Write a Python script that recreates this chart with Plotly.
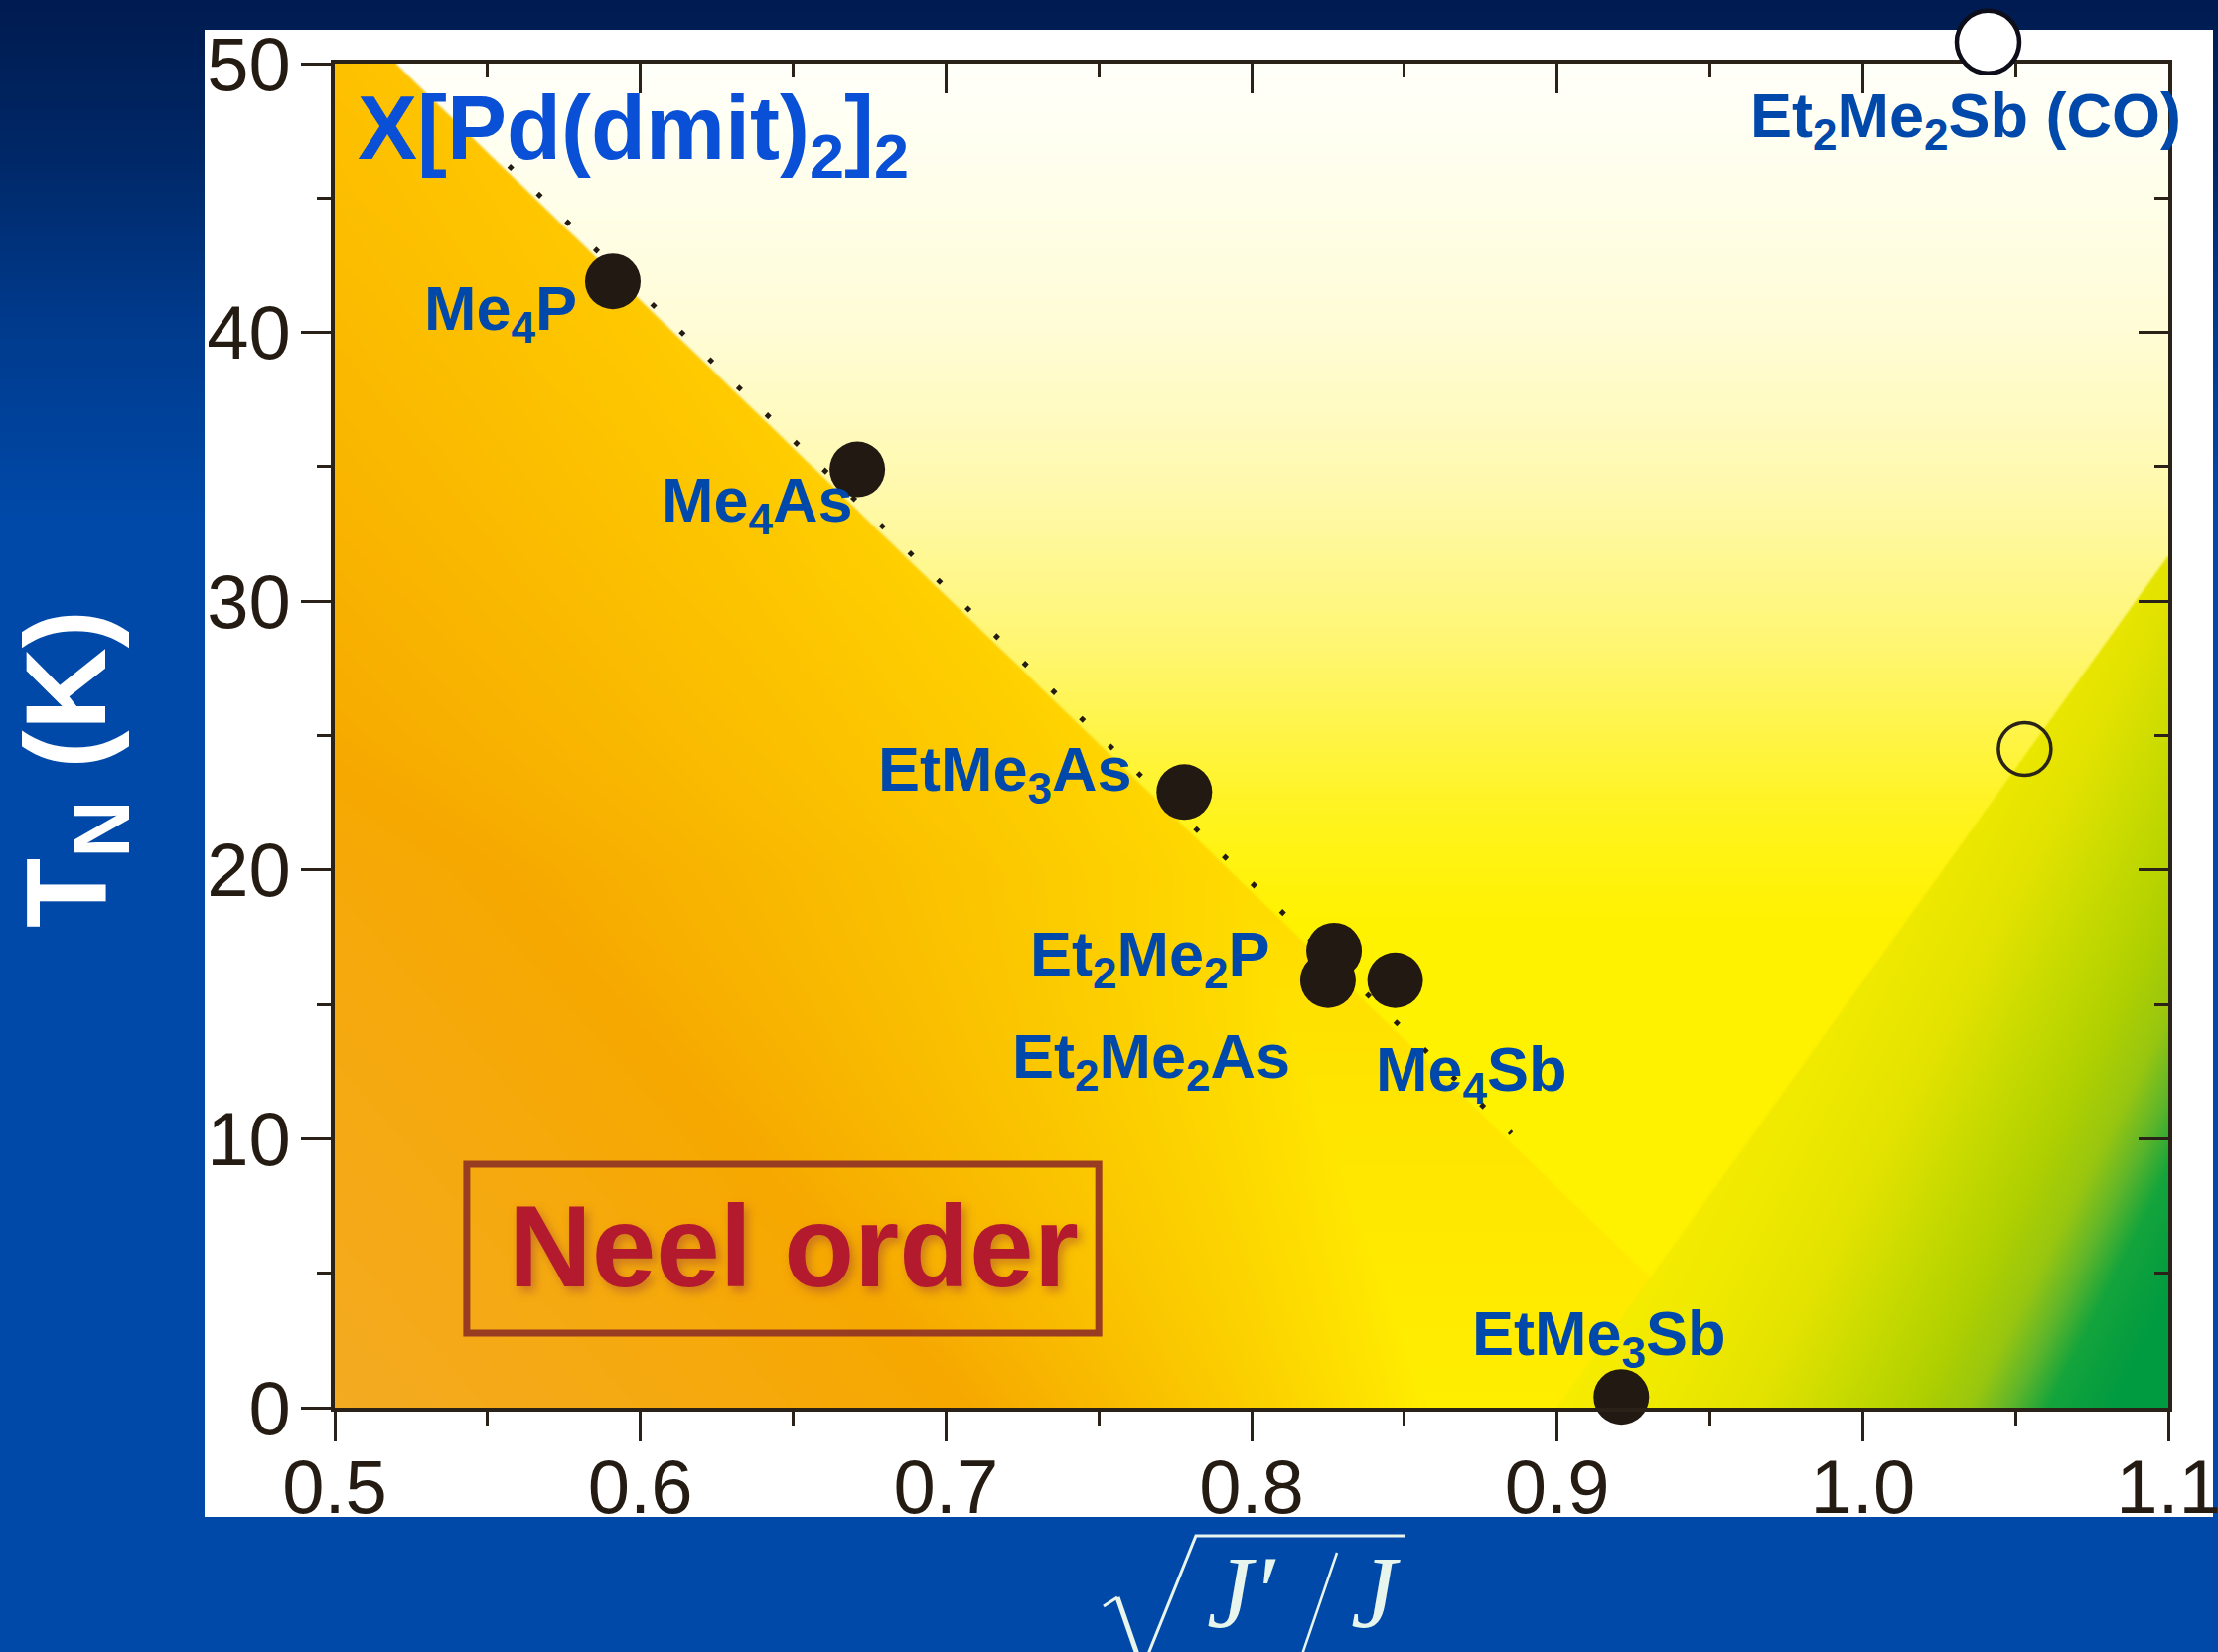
import base64
import struct
import zlib

import numpy as np
import plotly.graph_objects as go

# ---------------- data ----------------
compounds = ["Me<sub>4</sub>P", "Me<sub>4</sub>As", "EtMe<sub>3</sub>As",
             "Et<sub>2</sub>Me<sub>2</sub>P", "Et<sub>2</sub>Me<sub>2</sub>As",
             "Me<sub>4</sub>Sb", "EtMe<sub>3</sub>Sb"]
sqrt_ratio = [0.591, 0.671, 0.778, 0.827, 0.825, 0.847, 0.921]
tn_kelvin = [41.9, 34.9, 22.9, 17.0, 15.9, 15.9, 0.4]

co_label = "Et<sub>2</sub>Me<sub>2</sub>Sb (CO)"
co_key_ratio = [1.041]
co_key_temp = [50.8]
co_ratio = [1.053]
co_temp = [24.5]

guide_ratio = [0.557, 0.885]
guide_temp = [46.2, 10.2]

title_text = "X[Pd(dmit)<sub>2</sub>]<sub>2</sub>"
phase_text = "Neel order"
x_ticks = [0.5, 0.6, 0.7, 0.8, 0.9, 1.0, 1.1]
y_ticks = [0, 10, 20, 30, 40, 50]

# label positions (left edge, vertical centre of capitals)
label_pos = [(0.5285, 40.75), (0.6063, 33.6), (0.6771, 23.6), (0.7268, 16.73),
             (0.7210, 12.93), (0.840, 12.45), (0.8715, 2.60)]

# ---------------- geometry ----------------
FIG_W, FIG_H = 2233, 1663
PL, PR, PT, PB = 337, 2183, 64, 1417
XR = (0.5, 1.1)
YR = (0.0, 50.0)
Y_DOMAIN_TOP = (PB - PT) / PB          # paper extends to the top edge of the figure
Y_FULL = YR[1] * PB / (PB - PT)        # y value at the very top of the paper


def xpx(x):
    return PL + (np.asarray(x) - XR[0]) / (XR[1] - XR[0]) * (PR - PL)


def ypx(y):
    return PB - (np.asarray(y) - YR[0]) / (YR[1] - YR[0]) * (PB - PT)


def px2paper(X, Y):
    return (X - PL) / (PR - PL), (PB - Y) / PB


def png_uri(rgb):
    rgb = np.clip(np.round(rgb), 0, 255).astype(np.uint8)
    h, w, _ = rgb.shape
    raw = b"".join(b"\x00" + rgb[i].tobytes() for i in range(h))

    def chunk(t, d):
        c = struct.pack(">I", len(d)) + t + d
        return c + struct.pack(">I", zlib.crc32(t + d) & 0xFFFFFFFF)

    png = (b"\x89PNG\r\n\x1a\n"
           + chunk(b"IHDR", struct.pack(">IIBBBBB", w, h, 8, 2, 0, 0, 0))
           + chunk(b"IDAT", zlib.compress(raw, 9))
           + chunk(b"IEND", b""))
    return "data:image/png;base64," + base64.b64encode(png).decode()


def stops_interp(v, stops):
    pos = np.array([s[0] for s in stops], dtype=float)
    return np.stack([np.interp(v, pos, [s[1][k] for s in stops]) for k in range(3)], axis=-1)


def signed_dist(px, py, p1, p2):
    x1, y1 = xpx(p1[0]), ypx(p1[1])
    x2, y2 = xpx(p2[0]), ypx(p2[1])
    dx, dy = x2 - x1, y2 - y1
    n = np.hypot(dx, dy)
    dx, dy = dx / n, dy / n
    return dx * (py - y1) - dy * (px - x1)


# ---------------- plot-area colour field ----------------
W, H = 923, 677
jj, ii = np.meshgrid(np.arange(W) + 0.5, np.arange(H) + 0.5)
px = PL + jj * (PR - PL) / W
py = PT + ii * (PB - PT) / H
yv = (PB - py) / (PB - PT) * 50.0

d_o = signed_dist(px, py, (0.520, 50.0), (0.9745, 0.0))
near = stops_interp(yv, [(0, (255, 238, 0)), (12, (255, 228, 0)), (25, (255, 212, 0)),
                         (50, (255, 196, 0))])
off = np.interp(yv, [0, 20, 50], [250, 0, 0])
span = np.interp(yv, [0, 25, 50], [320, 560, 560])
t1 = np.clip((d_o - off) / span, 0, 1)[..., None] ** 0.85
orange = near * (1 - t1) + np.array([246, 168, 0]) * t1
t2 = np.clip((d_o - off - span) / 450.0, 0, 1)[..., None]
orange = orange * (1 - t2) + np.array([244, 170, 34]) * t2

yellow = stops_interp(yv, [(0, (255, 242, 0)), (18, (255, 242, 0)), (22, (255, 243, 30)),
                           (28, (255, 246, 110)), (34, (255, 249, 172)), (40, (255, 252, 214)),
                           (48, (255, 255, 244)), (50, (255, 255, 250))])

d_g = signed_dist(px, py, (0.900, 0.0), (1.100, 31.7))
s_g = 0.89 * (px - xpx(0.9)) + 0.45 * (py - PB)
green = stops_interp(s_g, [(-100, (248, 238, 0)), (0, (246, 236, 0)), (100, (238, 232, 0)),
                           (180, (226, 226, 0)), (250, (200, 218, 0)), (320, (176, 208, 0)),
                           (370, (152, 198, 16)), (405, (96, 182, 42)), (440, (20, 164, 60)),
                           (500, (0, 154, 64)), (900, (0, 154, 64))])

m_o = np.clip(d_o / 2.0 + 0.5, 0, 1)[..., None]
m_g = np.clip(d_g / 2.0 + 0.5, 0, 1)[..., None]
field = yellow * (1 - m_o) + orange * m_o
field = field * (1 - m_g) + green * m_g
plot_uri = png_uri(field)

# ---------------- page background ----------------
BW, BH = 280, 416
bj, bi = np.meshgrid(np.arange(BW) + 0.5, np.arange(BH) + 0.5)
by = bi * FIG_H / BH
bg = stops_interp(by, [(0, (0, 27, 80)), (150, (0, 39, 102)), (320, (0, 58, 140)),
                       (520, (0, 73, 168)), (FIG_H, (0, 73, 169))])
bg_uri = png_uri(bg)

# ---------------- figure ----------------
FONT = "Liberation Sans, Arial, sans-serif"
SERIF = "Liberation Serif, Times New Roman, serif"
INK = "#241B13"
LABEL_BLUE = "#0049AB"

fig = go.Figure()

fig.add_trace(go.Scatter(
    x=guide_ratio, y=guide_temp, mode="lines",
    line=dict(color="#231C14", width=5, dash="5px,35px"),
    hoverinfo="skip", showlegend=False))

fig.add_trace(go.Scatter(
    x=sqrt_ratio, y=tn_kelvin, mode="markers", name="X[Pd(dmit)2]2",
    marker=dict(size=56, color="#221A12", line=dict(width=0)),
    cliponaxis=False, showlegend=False))

fig.add_trace(go.Scatter(
    x=co_ratio, y=co_temp, mode="markers", name="Et2Me2Sb (CO)",
    marker=dict(size=53, color="rgba(0,0,0,0)", line=dict(width=3.5, color="#2A2418")),
    cliponaxis=False, showlegend=False))

# dummy trace for the mirrored axes
fig.add_trace(go.Scatter(x=[0.5], y=[0], xaxis="x2", yaxis="y2", mode="markers",
                         marker=dict(opacity=0), hoverinfo="skip", showlegend=False))

# key marker for the CO salt, sits above the frame -> taller helper axis
fig.add_trace(go.Scatter(
    x=co_key_ratio, y=co_key_temp, yaxis="y3", mode="markers", name="CO key",
    marker=dict(size=63, color="white", line=dict(width=4.5, color="#0E0E1A")),
    cliponaxis=False, hoverinfo="skip", showlegend=False))

axis_common = dict(showgrid=False, zeroline=False, showline=True, linecolor="#2A2118",
                   linewidth=4, tickcolor="#2A2118", tickwidth=3, ticklen=30, automargin=False)

fig.update_layout(
    width=FIG_W, height=FIG_H, autosize=False,
    margin=dict(l=PL, r=FIG_W - PR, t=0, b=FIG_H - PB, pad=0, autoexpand=False),
    paper_bgcolor="#0049A9", plot_bgcolor="rgba(0,0,0,0)",
    font=dict(family=FONT, color=INK),
    xaxis=dict(range=list(XR), tickvals=x_ticks, tickformat=".1f", ticks="outside",
               tickfont=dict(size=76, color=INK, family=FONT), ticklabelstandoff=-19,
               ticklabeloverflow="allow",
               minor=dict(dtick=0.05, ticklen=14, tickwidth=3, tickcolor="#2A2118", ticks="outside"),
               **axis_common),
    yaxis=dict(range=list(YR), domain=[0, Y_DOMAIN_TOP], tickvals=y_ticks, ticks="outside",
               tickfont=dict(size=76, color=INK, family=FONT), ticklabelstandoff=-5,
               ticklabeloverflow="allow",
               minor=dict(dtick=5, ticklen=14, tickwidth=3, tickcolor="#2A2118", ticks="outside"),
               **axis_common),
    xaxis2=dict(range=list(XR), overlaying="x", side="top", anchor="y2", ticks="inside",
                tickvals=x_ticks, showticklabels=False,
                minor=dict(dtick=0.05, ticklen=14, tickwidth=3, tickcolor="#2A2118", ticks="inside"),
                **axis_common),
    yaxis2=dict(range=list(YR), overlaying="y", side="right", anchor="x2", ticks="inside",
                tickvals=y_ticks, showticklabels=False,
                minor=dict(dtick=5, ticklen=14, tickwidth=3, tickcolor="#2A2118", ticks="inside"),
                **axis_common),
    yaxis3=dict(range=[YR[0], Y_FULL], domain=[0, 1], anchor="x", visible=False,
                showgrid=False, zeroline=False, automargin=False),
)

# background images
fig.add_layout_image(dict(source=bg_uri, xref="paper", yref="paper",
                          x=(0 - PL) / (PR - PL), y=1.0,
                          sizex=FIG_W / (PR - PL), sizey=FIG_H / PB,
                          xanchor="left", yanchor="top", sizing="stretch", layer="below"))
fig.add_layout_image(dict(source=plot_uri, xref="x", yref="y", x=XR[0], y=YR[1],
                          sizex=XR[1] - XR[0], sizey=YR[1] - YR[0],
                          xanchor="left", yanchor="top", sizing="stretch", layer="below"))

# white panel
p0 = px2paper(206, 1527)
p1 = px2paper(2228, 30)
fig.add_shape(type="rect", xref="paper", yref="paper", x0=p0[0], y0=p0[1], x1=p1[0], y1=p1[1],
              fillcolor="white", line=dict(width=0), layer="below")

# Neel order box
fig.add_shape(type="rect", xref="x", yref="y", x0=0.5432, y0=2.77, x1=0.750, y1=9.05,
              line=dict(color="#993D22", width=7), fillcolor="rgba(0,0,0,0)")
fig.add_annotation(x=0.650, y=5.97, xref="x", yref="y", text=f"<b>{phase_text}</b>",
                   showarrow=False, xanchor="center", yanchor="middle",
                   font=dict(size=116, color="#B41A2D", family=FONT,
                             shadow="4px 5px 10px rgba(170,80,50,0.55)"))

# compound labels
for txt, (lx, ly) in zip(compounds, label_pos):
    fig.add_annotation(x=lx, y=ly, xref="x", yref="y", text=f"<b>{txt}</b>", showarrow=False,
                       xanchor="left", yanchor="middle",
                       font=dict(size=63, color=LABEL_BLUE, family=FONT))
fig.add_annotation(x=0.9625, y=47.9, xref="x", yref="y", text=f"<b>{co_label}</b>",
                   showarrow=False, xanchor="left", yanchor="middle",
                   font=dict(size=63, color=LABEL_BLUE, family=FONT))
fig.add_annotation(x=0.5068, y=47.34, xref="x", yref="y", text=f"<b>{title_text}</b>",
                   showarrow=False, xanchor="left", yanchor="middle",
                   font=dict(size=90, color="#0A50D6", family=FONT))

# y axis title
ty = px2paper(75, 774)
fig.add_annotation(x=ty[0], y=ty[1], xref="paper", yref="paper",
                   text="<b>T<sub>N</sub> (K)</b>", textangle=-90, showarrow=False,
                   xanchor="center", yanchor="middle",
                   font=dict(size=115, color="white", family=FONT))

# x axis title: sqrt(J'/J)
TITLE_INK = "#E8F5EC"
jp = px2paper(1250, 1603)
fig.add_annotation(x=jp[0], y=jp[1], xref="paper", yref="paper", text="<i>J′</i>",
                   showarrow=False, xanchor="center", yanchor="middle",
                   font=dict(size=103, color=TITLE_INK, family=SERIF))
jj2 = px2paper(1385, 1603)
fig.add_annotation(x=jj2[0], y=jj2[1], xref="paper", yref="paper", text="<i>J</i>",
                   showarrow=False, xanchor="center", yanchor="middle",
                   font=dict(size=103, color=TITLE_INK, family=SERIF))


def ppath(points):
    parts = []
    for k, (X, Y) in enumerate(points):
        a, b = px2paper(X, Y)
        parts.append(("M" if k == 0 else "L") + f"{a:.5f},{b:.5f}")
    return " ".join(parts)


fig.add_shape(type="path", xref="paper", yref="paper",
              path=ppath([(1111, 1617), (1125, 1608)]), line=dict(color=TITLE_INK, width=3))
fig.add_shape(type="path", xref="paper", yref="paper",
              path=ppath([(1125, 1608), (1150, 1680)]), line=dict(color=TITLE_INK, width=5))
fig.add_shape(type="path", xref="paper", yref="paper",
              path=ppath([(1150, 1680), (1204, 1546), (1414, 1546)]),
              line=dict(color=TITLE_INK, width=3))
fig.add_shape(type="path", xref="paper", yref="paper",
              path=ppath([(1346, 1563), (1306, 1680)]), line=dict(color=TITLE_INK, width=2.5))

fig.write_html("out.html", config={"displayModeBar": False},
               post_script="document.body.style.margin='0';document.body.style.overflow='hidden';")
